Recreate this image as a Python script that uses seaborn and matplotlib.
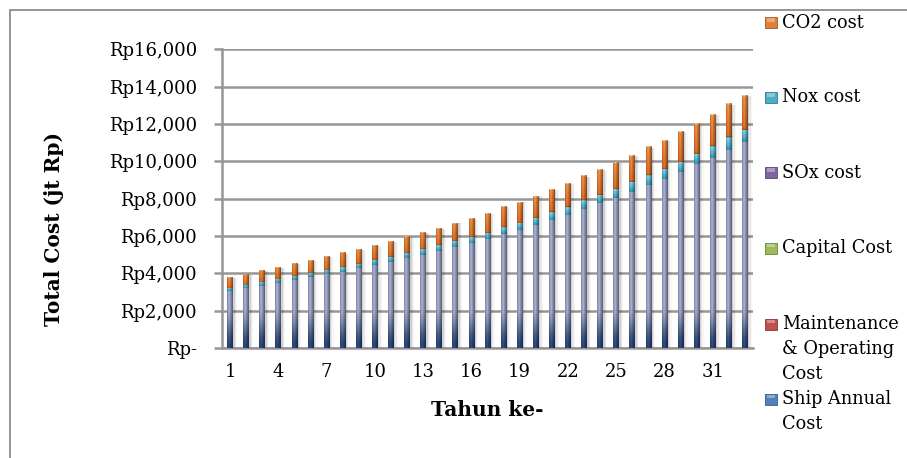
import numpy as np
import pandas as pd
import matplotlib
matplotlib.use("Agg")
import matplotlib.pyplot as plt
import seaborn as sns
from matplotlib.patches import Rectangle
from matplotlib.colors import to_rgb

# ---- data (jt Rp) ----
years = list(range(1, 34))
ship_annual = [3050, 3200, 3330, 3490, 3640, 3780, 3950, 4070, 4260, 4440, 4580,
               4830, 4990, 5210, 5420, 5640, 5840, 6130, 6340, 6610, 6880, 7150,
               7460, 7790, 8040, 8360, 8750, 9070, 9430, 9830, 10200, 10630, 11040]
maintenance = [0, 0, 0, 0, 0, 0, 0, 0, 0, 0, 0, 0, 0, 0, 0, 0, 0,
               0, 0, 0, 0, 0, 0, 0, 0, 0, 0, 0, 0, 0, 0, 0, 0]
capital = [0, 0, 0, 0, 0, 0, 0, 0, 0, 0, 0, 0, 0, 0, 0, 0, 0,
           0, 0, 0, 0, 0, 0, 0, 0, 0, 0, 0, 0, 0, 0, 0, 0]
sox = [0, 0, 0, 0, 0, 0, 0, 0, 0, 0, 0, 0, 0, 0, 0, 0, 0,
       0, 0, 0, 0, 0, 0, 0, 0, 0, 0, 0, 0, 0, 0, 0, 0]
nox = [180, 200, 220, 220, 240, 240, 240, 250, 250, 270, 290, 280, 320, 320,
       330, 320, 340, 330, 380, 380, 380, 420, 450, 430, 500, 540, 500, 540,
       540, 570, 630, 650, 660]
co2 = [580, 560, 600, 600, 650, 670, 730, 750, 780, 800, 850, 870, 900, 900,
       960, 1010, 1060, 1110, 1120, 1170, 1230, 1240, 1290, 1360, 1400, 1430,
       1500, 1520, 1650, 1650, 1700, 1790, 1840]

series_names = ["Ship Annual Cost", "Maintenance & Operating Cost", "Capital Cost",
                "SOx cost", "Nox cost", "CO2 cost"]
series_values = [ship_annual, maintenance, capital, sox, nox, co2]
series_colors = ["#4F81BD", "#C0504D", "#9BBB59", "#8064A2", "#4BACC6", "#E07F36"]
legend_lines = [["Ship Annual", "Cost"], ["Maintenance", "& Operating", "Cost"],
                ["Capital Cost"], ["SOx cost"], ["Nox cost"], ["CO2 cost"]]

ytick_values = [0, 2000, 4000, 6000, 8000, 10000, 12000, 14000, 16000]
ytick_labels = ["Rp-", "Rp2,000", "Rp4,000", "Rp6,000", "Rp8,000", "Rp10,000",
                "Rp12,000", "Rp14,000", "Rp16,000"]

df = pd.DataFrame({"Tahun": years})
for name, vals in zip(series_names, series_values):
    df[name] = vals
cum = df[series_names].cumsum(axis=1)

# ---- style ----
sns.set_theme(style="white")
plt.rcParams["font.family"] = ["DejaVu Serif"]
GRID = "#969696"

W, H = 907, 458
fig = plt.figure(figsize=(W / 100, H / 100), dpi=100)
ax = fig.add_axes([222 / W, 1 - 348 / H, 531 / W, 298.7 / H])

BAR_W = 0.36
# stacked bars: draw cumulative totals from the top series down
bar_patches = {}
for name, color in reversed(list(zip(series_names, series_colors))):
    n0 = len(ax.patches)
    sns.barplot(x=df["Tahun"].astype(str), y=cum[name], color=color, saturation=1,
                width=BAR_W, errorbar=None, linewidth=0, ax=ax, zorder=2)
    bar_patches[name] = ax.patches[n0:]


def lerp(c1, c2, t):
    c1, c2 = np.array(to_rgb(c1)), np.array(to_rgb(c2))
    t = np.asarray(t)[..., None]
    return c1 * (1 - t) + c2 * t


xs = np.linspace(0, 1, 24)
shade = (0.84 + 0.30 * np.exp(-((xs - 0.35) / 0.22) ** 2)
         - 0.28 * np.clip((xs - 0.68) / 0.32, 0, 1) ** 1.5)


def column_colors(name, top, bottom, ny=60):
    v = np.linspace(top, bottom, ny)
    t = np.linspace(0, 1, ny)
    if name == "Ship Annual Cost":
        s = np.clip(v / 2200.0, 0, 1)
        s = s * s * (3 - 2 * s)
        col = lerp("#2A4270", "#959CBD", s)
    elif name == "Nox cost":
        col = lerp("#78CBE0", "#2F8CA8", t)
        col[:2] = to_rgb("#2C7F98")
    elif name == "CO2 cost":
        col = lerp("#DE843E", "#C9641F", t)
        col[:3] = lerp("#F5C59A", "#E39050", np.linspace(0, 1, 3))
        col[-2:] = to_rgb("#9E4A14")
    else:
        base = series_colors[series_names.index(name)]
        col = lerp(base, base, t)
    img = col[:, None, :] * shade[None, :, None]
    return np.clip(img, 0, 1)


# shaded fill of every stacked segment, placed on the seaborn bars
prev = np.zeros(len(years))
for name in series_names:
    tops = cum[name].to_numpy(dtype=float)
    for i, p in enumerate(bar_patches[name]):
        lo, hi = prev[i], tops[i]
        if hi - lo <= 0:
            continue
        x0, w = p.get_x(), p.get_width()
        ax.imshow(column_colors(name, hi, lo), extent=[x0, x0 + w, lo, hi],
                  aspect="auto", interpolation="bilinear", zorder=3)
    prev = tops

# soft shadow to the right of each bar
for p, total in zip(bar_patches["CO2 cost"], cum["CO2 cost"]):
    x0, w = p.get_x(), p.get_width()
    for dx, a in [(0.10, 0.10), (0.18, 0.06), (0.26, 0.03)]:
        ax.add_patch(Rectangle((x0 + 0.05, 0), w + dx - 0.05, total - 40,
                               facecolor="black", alpha=a, linewidth=0, zorder=1.5))

ax.set_xlim(-0.5, len(years) - 0.5)
ax.set_ylim(0, 16000)

# axes, grid and ticks
ax.set_axisbelow(True)
ax.yaxis.grid(True, color=GRID, linewidth=1.8, zorder=0.5)
ax.xaxis.grid(False)
for side in ["top", "right"]:
    ax.spines[side].set_visible(False)
for side in ["left", "bottom"]:
    ax.spines[side].set_color(GRID)
    ax.spines[side].set_linewidth(1.8)

ax.set_yticks(ytick_values)
ax.set_yticklabels(ytick_labels)
xt = list(range(0, len(years), 3))
ax.set_xticks(xt)
ax.set_xticklabels([str(years[i]) for i in xt])
ax.tick_params(axis="y", which="both", left=True, length=6, width=1.8, color=GRID,
               direction="out", pad=12, labelsize=13, labelcolor="black")
ax.tick_params(axis="x", which="both", bottom=False, length=0, pad=11,
               labelsize=13, labelcolor="black")

ax.set_xlabel("Tahun ke-", fontsize=14.5, fontweight="bold", color="black")
ax.xaxis.set_label_coords(0.5, -0.175)
ax.set_ylabel("Total Cost (jt Rp)", fontsize=14.5, fontweight="bold", color="black")
ax.yaxis.set_label_coords(-0.298, 0.398)

# legend on the right, top entry first
entry_y = {"CO2 cost": 22.7, "Nox cost": 97.5, "SOx cost": 172.7, "Capital Cost": 248.3,
           "Maintenance & Operating Cost": 324, "Ship Annual Cost": 399}
for name, color, lines in zip(series_names, series_colors, legend_lines):
    y = entry_y[name]
    fig.patches.append(Rectangle((765 / W, 1 - (y + 5.5) / H), 12 / W, 11 / H,
                                 facecolor=color, edgecolor=np.array(to_rgb(color)) * 0.7,
                                 linewidth=0.6, transform=fig.transFigure, figure=fig))
    fig.patches.append(Rectangle((767 / W, 1 - (y - 1) / H), 8 / W, 3.5 / H,
                                 facecolor="white", alpha=0.35, linewidth=0,
                                 transform=fig.transFigure, figure=fig))
    for k, line in enumerate(lines):
        fig.text(782 / W, 1 - (y + 25 * k) / H, line, fontsize=12.8, color="black",
                 ha="left", va="center")

# chart frame
fig.patches.append(Rectangle((10 / W, -0.1), 1.2, 1.1 - 10 / H, fill=False,
                             edgecolor="#8C8C8C", linewidth=1.3,
                             transform=fig.transFigure, figure=fig))

fig.savefig("out.png", dpi=100)
